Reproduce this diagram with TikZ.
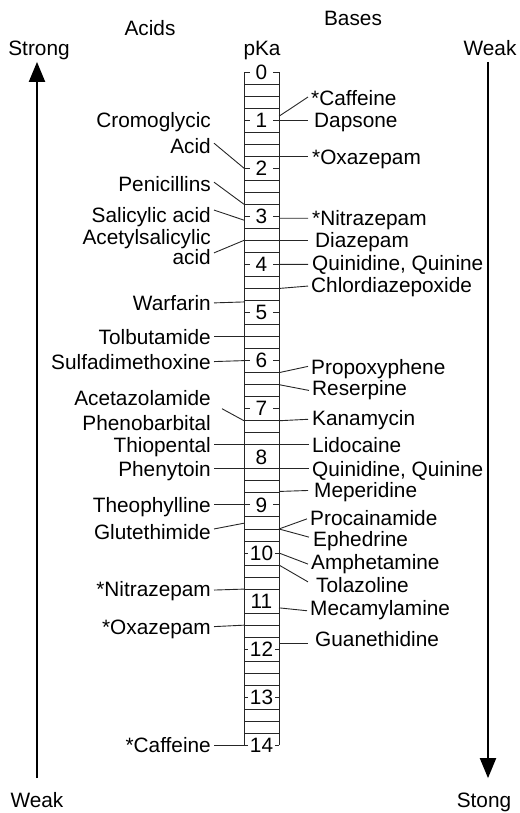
\documentclass[tikz,border=0pt]{standalone}
\usepackage{fontspec}
\setmainfont{Liberation Sans}
\usetikzlibrary{arrows.meta,calc}

\begin{document}
\begin{tikzpicture}[
    x={(1pt,0pt)},
    y={(0pt,-48.1pt)},
    every node/.style={font=\fontsize{20.8}{24}\selectfont},
    acid_label/.style={anchor=east, inner sep=3pt, text height=14.5pt, text depth=0pt},
    base_label/.style={anchor=west, inner sep=3pt, text height=14.5pt, text depth=0pt},
    scale_num/.style={inner sep=0pt, text height=14.5pt, text depth=0pt},
    head_label/.style={inner sep=0pt, text height=14.5pt, text depth=0pt},
    scale_line/.style={draw, line width=0.9pt, black!85},
    leader/.style={draw, line width=0.9pt, black!85},
    trend_arrow/.style={draw, line width=2pt, -{Triangle[width=16pt,length=20pt]}}
]
  \useasboundingbox (0,-1.497) rectangle (519,15.405);
  % pKa column: sides, quarter lines, numbers with their stubs
  \draw[scale_line] (244,0) -- (244,14);
  \draw[scale_line] (279,0) -- (279,14);
  \foreach \q in {1,...,55} {
    \pgfmathtruncatemacro{\r}{mod(\q,4)}
    \ifnum\r>0 \draw[scale_line] (244,\q/4) -- (279,\q/4); \fi
  }
  \foreach \i in {0,...,14} {
    \node[scale_num] (n\i) at (261.5,\i) {\i};
    \ifnum\i=8 \else \ifnum\i=11 \else
      \ifnum\i<10 \def\stub{6} \else \def\stub{4} \fi
      \draw[scale_line] (244,\i) -- ++(\stub,0);
      \draw[scale_line] (279,\i) -- ++(-\stub,0);
    \fi \fi
  }
  % Headings and the two strength arrows
  \node[head_label] (acids) at (150,-0.91) {Acids};
  \node[head_label] (bases) at (353,-1.12) {Bases};
  \node[head_label] (pka) at (262,-0.50) {pKa};
  \node[head_label] (strong_a) at (39,-0.50) {Strong};
  \node[head_label] (weak_a) at (37,15.14) {Weak};
  \node[head_label] (weak_b) at (490,-0.50) {Weak};
  \node[head_label] (strong_b) at (484,15.14) {Stong};
  \coordinate (acid_lo) at (37,14.68);
  \coordinate (acid_hi) at (37,-0.21);
  \coordinate (base_hi) at (488,-0.21);
  \coordinate (base_lo) at (488,14.68);
  \draw[trend_arrow] (acid_lo) -- (acid_hi);
  \draw[trend_arrow] (base_hi) -- (base_lo);
  % Acids, with leaders to the left side of the column
  \foreach \nm/\txt/\ty/\dx/\sy/\pk in {
      a1/Cromoglycic/1.0/0/0/-1,
      a2/Acid/1.54/0/1.48/2,
      a3/Penicillins/2.33/0/2.29/2.75,
      a4/Salicylic acid/2.97/0/2.87/3.08,
      a5/Acetylsalicylic/3.43/0/0/-1,
      a6/acid/3.85/0/3.76/3.5,
      a7/Warfarin/4.8/0/4.8/4.78,
      a8/Tolbutamide/5.52/0/5.5/5.5,
      a9/Sulfadimethoxine/6.03/0/6.02/6.0,
      a10/Acetazolamide/6.78/0/0/-1,
      a11/Phenobarbital/7.3/8/7.0/7.25,
      a12/Thiopental/7.75/0/0/-1,
      a13/Phenytoin/8.25/0/0/-1,
      a14/Theophylline/9.0/0/9.0/9.0,
      a15/Glutethimide/9.56/0/9.5/9.38,
      a16/*Nitrazepam/10.76/0/10.77/10.75,
      a17/*Oxazepam/11.55/0/11.53/11.5,
      a18/*Caffeine/14.0/0/14.0/14.0} {
    \node[acid_label] (\nm) at (214,\ty) {\txt};
    \ifdim\pk pt>0pt
      \coordinate (c\nm) at (244,\pk);
      \draw[leader] ($(\nm.east)+(\dx,\sy-\ty)$) -- (c\nm);
    \fi
  }
  % Bases, with leaders from the right side of the column
  \foreach \nm/\txt/\tx/\ty/\pa/\pb/\ex in {
      b1/*Caffeine/308/0.54/0.92/0.52/0,
      b2/Dapsone/311/1.0/1.0/1.0/-3,
      b3/*Oxazepam/309/1.77/1.75/1.75/-1,
      b4/*Nitrazepam/309/3.03/3.04/3.04/-1,
      b5/Diazepam/312/3.5/3.5/3.5/-4,
      b6/{Quinidine, Quinine}/309/3.97/4.0/4.0/-1,
      b7/Chlordiazepoxide/308/4.43/4.5/4.45/0,
      b8/Propoxyphene/308/6.13/6.25/6.12/0,
      b9/Reserpine/309/6.57/6.5/6.62/0,
      b10/Kanamycin/309/7.2/7.25/7.22/-1,
      b11/Lidocaine/309/7.75/-1/0/0,
      b12/{Quinidine, Quinine}/309/8.25/-1/0/0,
      b13/Meperidine/311/8.7/8.72/8.7/-3,
      b14/Procainamide/307/9.27/9.5/9.29/0,
      b15/Ephedrine/310/9.71/9.5/9.67/-1,
      b16/Amphetamine/308/10.19/10.0/10.23/0,
      b17/Tolazoline/313/10.67/10.25/10.6/-5,
      b18/Mecamylamine/307/11.14/11.14/11.2/0,
      b19/Guanethidine/312/11.8/11.87/11.87/-4} {
    \node[base_label] (\nm) at (\tx,\ty) {\txt};
    \ifdim\pa pt>0pt
      \coordinate (c\nm) at (279,\pa);
      \draw[leader] (c\nm) -- ($(\nm.west)+(\ex,\pb-\ty)$);
    \fi
  }
  % Thiopental/Lidocaine and Phenytoin/Quinidine share one line across
  \draw[leader] (a12.east) -- (b11.west);
  \draw[leader] (a13.east) -- (b12.west);
\end{tikzpicture}
\end{document}
